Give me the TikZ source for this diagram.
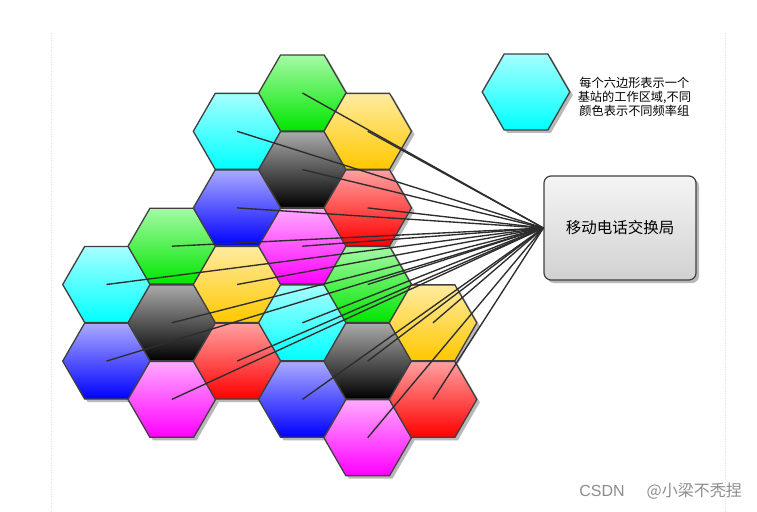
\documentclass[tikz,border=0pt]{standalone}
\usepackage{fontspec}
\newfontfamily\cjk{Noto Sans CJK SC}
\newfontfamily\latn{Liberation Sans}
\usetikzlibrary{shapes,positioning,shadows}

% Cell tints, light at the top and full at the bottom
\definecolor{cyantop}{RGB}{165,255,255}
\definecolor{cyanbot}{RGB}{0,255,255}
\definecolor{bluetop}{RGB}{170,170,255}
\definecolor{bluebot}{RGB}{0,0,255}
\definecolor{greentop}{RGB}{165,250,165}
\definecolor{greenbot}{RGB}{0,230,0}
\definecolor{blacktop}{RGB}{170,170,170}
\definecolor{blackbot}{RGB}{0,0,0}
\definecolor{magentatop}{RGB}{255,170,255}
\definecolor{magentabot}{RGB}{255,0,255}
\definecolor{yellowtop}{RGB}{255,235,160}
\definecolor{yellowbot}{RGB}{255,200,0}
\definecolor{redtop}{RGB}{255,160,160}
\definecolor{redbot}{RGB}{255,0,0}
\definecolor{edge}{RGB}{64,64,64}
\definecolor{wirecol}{RGB}{45,45,45}

\begin{document}
\begin{tikzpicture}[x=1pt, y=-1pt,
        hexcell/.style={regular polygon, regular polygon sides=6, minimum size=87.6pt,
            inner sep=0pt, draw=edge, line width=1.3pt,
            drop shadow={shadow xshift=3pt, shadow yshift=-3pt, fill=black!35, opacity=0.8}},
        switchbox/.style={draw=edge, line width=1.2pt, rounded corners=7pt,
            top color=black!4, bottom color=black!18, minimum width=152pt, minimum height=104pt,
            font=\cjk\fontsize{15.5}{18}\selectfont,
            drop shadow={shadow xshift=3pt, shadow yshift=-3pt, fill=black!35, opacity=0.8}},
        wire/.style={draw=wirecol, line width=1.35pt}]
        % Cell grid
        \pgfmathsetmacro{\colstep}{65.3}
        \pgfmathsetmacro{\rowstep}{38.3}
        \pgfmathsetmacro{\xorigin}{106.5}
        \pgfmathsetmacro{\yorigin}{93}
        \useasboundingbox (0,0) rectangle (757,511);

        % Faint page edges
        \draw [black!12, dotted] (51,33) -- (51,511);
        \draw [black!12, dotted] (725,33) -- (725,511);

        % Base station cells, column by column
        \foreach \name/\col/\row/\tint in {
                a1/0/5/cyan, a2/0/7/blue,
                b1/1/4/green, b2/1/6/black, b3/1/8/magenta,
                c1/2/1/cyan, c2/2/3/blue, c3/2/5/yellow, c4/2/7/red,
                d1/3/0/green, d2/3/2/black, d3/3/4/magenta, d4/3/6/cyan, d5/3/8/blue,
                e1/4/1/yellow, e2/4/3/red, e3/4/5/green, e4/4/7/black, e5/4/9/magenta,
                f1/5/6/yellow, f2/5/8/red}
            \node [hexcell, top color=\tint top, bottom color=\tint bot] (\name)
                at ({\xorigin+\col*\colstep}, {\yorigin+\row*\rowstep}) {};

        % Switching centre and legend
        \node [switchbox] (exchange) at (620,228) {移动电话交换局};
        \node [hexcell, top color=cyantop, bottom color=cyanbot] (legend) at (526,92) {};
        \node [right=7pt of legend, yshift=-5pt, inner sep=0pt, align=center,
            font=\cjk\fontsize{12.2}{14}\selectfont] (legendtext)
            {每个六边形表示一个\\基站的工作区域,不同\\颜色表示不同频率组};

        % Links from every cell to the switching centre
        \foreach \name in {a1,a2,b1,b2,b3,c1,c2,c3,c4,d1,d2,d3,d4,d5,e1,e2,e3,e4,e5,f1,f2}
            \draw [wire] (\name.center) -- (exchange.west);

        \node [black!45, anchor=east, inner sep=0pt, font=\cjk\fontsize{16}{18}\selectfont] (mark)
            at (742,491) {{\latn\fontsize{16}{18}\selectfont CSDN}\hspace{22pt}@小梁不秃捏};
\end{tikzpicture}
\end{document}
